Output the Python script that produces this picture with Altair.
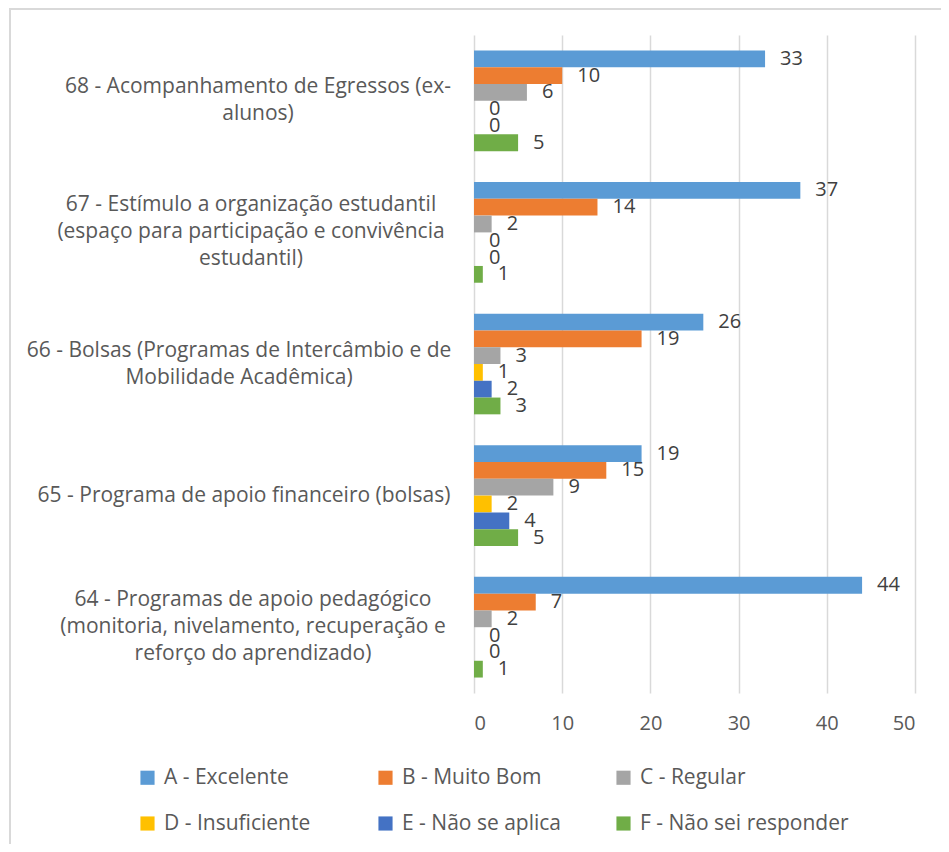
import altair as alt
import pandas as pd

# ---- data ----
categories = [
    "68 - Acompanhamento de Egressos (ex-|alunos)",
    "67 - Estímulo a organização estudantil|(espaço para participação e convivência|estudantil)",
    "66 - Bolsas (Programas de Intercâmbio e de|Mobilidade Acadêmica)",
    "65 - Programa de apoio financeiro (bolsas)",
    "64 - Programas de apoio pedagógico|(monitoria, nivelamento, recuperação e|reforço do aprendizado)",
]
series = [
    "A - Excelente",
    "B - Muito Bom",
    "C - Regular",
    "D - Insuficiente",
    "E - Não se aplica",
    "F - Não sei responder",
]
vals_A = [33, 37, 26, 19, 44]
vals_B = [10, 14, 19, 15, 7]
vals_C = [6, 2, 3, 9, 2]
vals_D = [0, 0, 1, 2, 0]
vals_E = [0, 0, 2, 4, 0]
vals_F = [5, 1, 3, 5, 1]
x_ticks = [0, 10, 20, 30, 40, 50]

# ---- style ----
colors = ["#5B9BD5", "#ED7D31", "#A5A5A5", "#FFC000", "#4472C4", "#70AD47"]
label_centre_shift = [-216, -223, -235, -230, -221]  # centre of each multi-line label, px left of the plot
FONT = "Open Sans"
LEGEND_FONT = "Open Sans"

all_vals = [vals_A, vals_B, vals_C, vals_D, vals_E, vals_F]
rows = []
for ci, cat in enumerate(categories):
    for s, vals in zip(series, all_vals):
        rows.append({"cat": cat, "series": s, "value": vals[ci]})
df = pd.DataFrame(rows)
df_cats = pd.DataFrame({"cat": categories, "lx": label_centre_shift})

y_enc = alt.Y(
    "cat:N",
    sort=categories,
    axis=None,
    scale=alt.Scale(paddingInner=0.235, paddingOuter=0.1175),
)
yoff_enc = alt.YOffset(
    "series:N", sort=series, scale=alt.Scale(paddingInner=0, paddingOuter=0)
)
x_enc = alt.X(
    "value:Q",
    scale=alt.Scale(domain=[0, 50], nice=False),
    axis=alt.Axis(
        values=x_ticks,
        grid=True,
        gridColor="#d9d9d9",
        gridWidth=1.5,
        domain=False,
        ticks=False,
        labelFontSize=20,
        labelFont=FONT,
        labelColor="#595959",
        labelPadding=20,
        title=None,
    ),
)

bars = alt.Chart(df).mark_bar().encode(
    y=y_enc,
    yOffset=yoff_enc,
    x=x_enc,
    color=alt.Color(
        "series:N",
        sort=series,
        scale=alt.Scale(domain=series, range=colors),
        legend=alt.Legend(
            title=None,
            orient="none",
            legendX=-337,
            legendY=732,
            direction="horizontal",
            columns=3,
            symbolType="square",
            symbolSize=200,
            symbolStrokeWidth=0,
            symbolOpacity=1,
            labelFontSize=21,
            labelFont=LEGEND_FONT,
            labelColor="#595959",
            columnPadding=2,
            rowPadding=24,
            gridAlign="all",
            labelOffset=6,
            padding=0,
            labelLimit=0,
        ),
    ),
)

vtext = alt.Chart(df).mark_text(
    align="left", baseline="middle", dx=15, fontSize=20, font=FONT, color="#404040"
).encode(y=y_enc, yOffset=yoff_enc, x="value:Q", text="value:Q")

cat_labels = (
    alt.Chart(df_cats)
    .transform_calculate(lines="split(datum.cat, '|')")
    .mark_text(
        align="center",
        baseline="middle",
        fontSize=21,
        font=FONT,
        color="#595959",
        lineHeight=27,
        dx=alt.ExprRef("datum.lx"),
        dy=alt.ExprRef("-(length(datum.lines) - 1) * 13.5"),
    )
    .encode(y=alt.Y("cat:N", sort=categories), x=alt.value(0), text="lines:N")
)

frame_df = pd.DataFrame({"k": [0]})
frame_left = alt.Chart(frame_df).mark_rule(color="#d9d9d9", strokeWidth=2).encode(
    x=alt.value(-464), y=alt.value(-27), y2=alt.value(809)
)
frame_top = alt.Chart(frame_df).mark_rule(color="#d9d9d9", strokeWidth=2).encode(
    x=alt.value(-465), x2=alt.value(467), y=alt.value(-26)
)

chart = (
    alt.layer(frame_left, frame_top, bars, vtext, cat_labels)
    .properties(
        width=441,
        height=658,
        autosize="none",
        padding={"left": 466, "top": 27, "right": 26, "bottom": 151},
        background="white",
    )
    .configure_view(stroke=None)
)

chart.save("out.html", embed_options={"renderer": "svg", "actions": False})
